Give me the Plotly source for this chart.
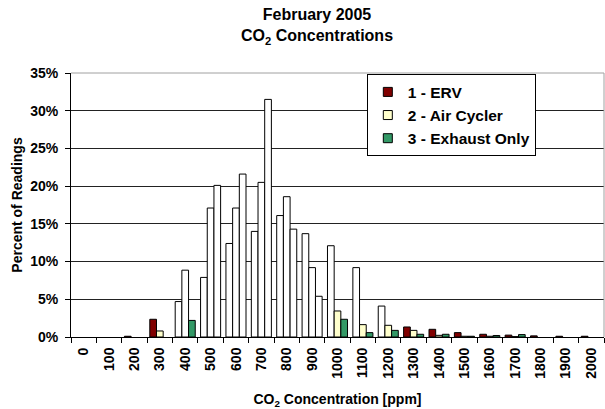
import plotly.graph_objects as go

# ---- data (percent of readings) ----
categories = ["0", "100", "200", "300", "400", "500", "600", "700", "800", "900",
              "1000", "1100", "1200", "1300", "1400", "1500", "1600", "1700",
              "1800", "1900", "2000"]
erv = [0, 0, 0.1, 2.35, 4.7, 7.9, 12.4, 14.0, 16.1, 13.7, 12.1, 9.2, 4.1,
       1.33, 1.02, 0.58, 0.36, 0.25, 0.15, 0.1, 0.1]
air_cycler = [0, 0, 0, 0.8, 8.86, 17.1, 17.1, 20.5, 18.6, 9.2, 3.45, 1.64, 1.55,
              0.88, 0.22, 0.1, 0.1, 0.05, 0, 0, 0]
exhaust_only = [0, 0, 0, 0, 2.2, 20.1, 21.6, 31.5, 14.3, 5.4, 2.35, 0.58, 0.88,
                0.36, 0.36, 0.1, 0.2, 0.32, 0, 0, 0]

series_names = ["1 - ERV", "2 - Air Cycler", "3 - Exhaust Only"]
series_values = [erv, air_cycler, exhaust_only]

# ---- style ----
series_colors = ["#800000", "#FFFFCC", "#339966"]
# categories whose bars are drawn unfilled (white) in the original chart
white_cats = [
    {"400", "500", "600", "700", "800", "900", "1000", "1100", "1200"},
    {"400", "500", "600", "700", "800", "900"},
    {"500", "600", "700", "800", "900"},
]

FONT = "Arial, Liberation Sans, sans-serif"

fig = go.Figure()
for name, vals, col, wset in zip(series_names, series_values, series_colors, white_cats):
    colors = ["#FFFFFF" if c in wset else col for c in categories]
    fig.add_trace(go.Bar(
        x=categories, y=[v if v > 0 else None for v in vals],
        name=name, showlegend=False,
        marker=dict(color=colors, line=dict(color="#000000", width=1)),
    ))

for name, col in zip(series_names, series_colors):
    fig.add_trace(go.Scatter(
        x=[None], y=[None], mode="markers", name=name,
        marker=dict(symbol="square", size=9, color=col,
                    line=dict(color="#000000", width=1)),
    ))

fig.update_layout(
    width=605, height=409,
    margin=dict(l=71, r=1, t=73, b=72, autoexpand=False),
    paper_bgcolor="white", plot_bgcolor="white",
    barmode="group", bargap=0.21, bargroupgap=0,
    font=dict(family=FONT, color="#000000"),
    title=dict(
        text="<b>February 2005<br>CO<sub>2</sub> Concentrations</b>",
        x=0.524, xref="container", xanchor="center",
        y=0.95, yref="container", yanchor="top",
        font=dict(size=16, family=FONT, color="#000000"),
    ),
    legend=dict(
        x=0.555, xanchor="left", y=0.995, yanchor="top",
        bgcolor="white", bordercolor="#000000", borderwidth=1,
        font=dict(size=15.5, family=FONT, color="#000000", weight="bold"),
        itemwidth=30,
    ),
)

fig.update_xaxes(
    type="category", categoryorder="array", categoryarray=categories,
    tickson="boundaries", ticks="outside", ticklen=5, tickcolor="#000000",
    showline=True, linecolor="#000000", linewidth=1,
    tickangle=-90, showgrid=False, automargin=False,
    tickfont=dict(size=14, family=FONT, color="#000000", weight="bold"),
    ticklabelstandoff=4,
    title=dict(text="<b>CO<sub>2</sub> Concentration [ppm]</b>",
               font=dict(size=14, family=FONT, color="#000000"), standoff=16),
)
fig.update_yaxes(
    range=[0, 35], dtick=5, ticksuffix="%",
    ticks="outside", ticklen=5, tickcolor="#000000",
    showline=True, linecolor="#000000", linewidth=1,
    showgrid=True, gridcolor="#222222", gridwidth=1, zeroline=False,
    automargin=False,
    tickfont=dict(size=14, family=FONT, color="#000000", weight="bold"),
    ticklabelstandoff=4,
    title=dict(text="<b>Percent of Readings</b>",
               font=dict(size=14, family=FONT, color="#000000"), standoff=4),
)

# gray plot-area border on top and right
fig.add_shape(type="line", xref="paper", yref="paper", x0=0, x1=1, y0=1, y1=1,
              line=dict(color="#A0A0A0", width=1), layer="above")
fig.add_shape(type="line", xref="paper", yref="paper", x0=1, x1=1, y0=0, y1=1,
              line=dict(color="#A0A0A0", width=1), layer="above")

fig.write_html(
    "out.html",
    config={"displayModeBar": False},
    post_script="document.body.style.margin='0';document.body.style.padding='0';"
                "document.body.style.overflow='hidden';",
)
